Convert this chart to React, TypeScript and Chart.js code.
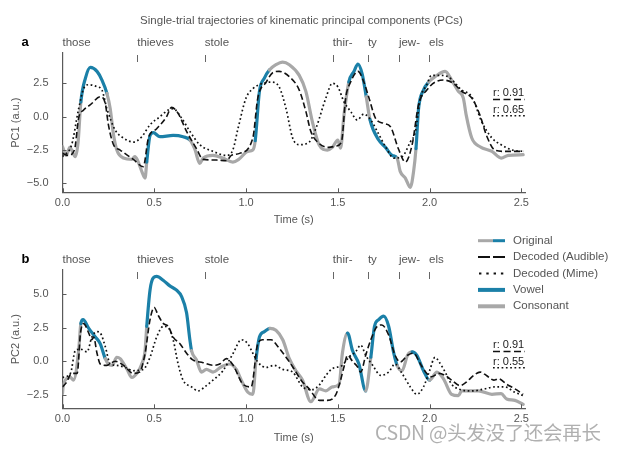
import React, { useEffect, useRef } from 'react';
import { Chart, registerables } from 'chart.js';

Chart.register(...registerables);

const GRAY = '#a8a8a8';
const BLUE = '#1b80a8';
const INK = '#111111';
const TEXT = '#555555';
const AXIS = '#5a5a5a';
const FONT = "'Liberation Sans', Arial, Helvetica, sans-serif";

// ---------- words (syllable onsets, s) ----------
const words = ['those', 'thieves', 'stole', 'thir-', 'ty', 'jew-', 'els'];
const wordTimes = [0, 0.407, 0.775, 1.473, 1.664, 1.833, 1.997];

// ---------- axes ----------
const xTickStep = 0.5;
const xMax = 2.52;
const pc1YTicks = [-5, -2.5, 0, 2.5];
const pc2YTicks = [-2.5, 0, 2.5, 5];
const pc1R = ['r: 0.91', 'r: 0.65'];
const pc2R = ['r: 0.91', 'r: 0.55'];
const legendLabels = ['Original', 'Decoded (Audible)', 'Decoded (Mime)', 'Vowel', 'Consonant'];

// ---------- PC1 ----------
const pc1OrigT = [0.0, 0.02, 0.04, 0.07, 0.085, 0.1, 0.125, 0.152, 0.188, 0.215, 0.242, 0.26, 0.278, 0.296, 0.332, 0.378, 0.394, 0.41, 0.432, 0.45, 0.459, 0.477, 0.495, 0.531, 0.603, 0.657, 0.694, 0.72, 0.748, 0.767, 0.82, 0.874, 0.928, 0.96, 1.01, 1.037, 1.05, 1.073, 1.1, 1.127, 1.163, 1.2, 1.236, 1.29, 1.326, 1.362, 1.398, 1.443, 1.47, 1.5, 1.515, 1.534, 1.56, 1.588, 1.61, 1.633, 1.655, 1.675, 1.723, 1.76, 1.796, 1.823, 1.84, 1.868, 1.895, 1.913, 1.926, 1.94, 1.967, 1.995, 2.03, 2.085, 2.12, 2.157, 2.184, 2.2, 2.23, 2.275, 2.34, 2.39, 2.43, 2.51];
const pc1OrigV = [-2.25, -2.9, -2.3, -3.0, -1.9, 1.1, 2.9, 3.7, 3.4, 2.75, 1.75, 0.6, -1.36, -2.5, -3.1, -3.2, -3.0, -3.3, -4.1, -4.6, -3.4, -1.4, -1.2, -1.5, -1.4, -1.5, -1.75, -2.4, -3.5, -3.1, -2.9, -3.1, -3.4, -3.2, -2.6, -2.5, -1.8, 1.9, 2.9, 3.5, 3.9, 4.1, 3.9, 3.1, 1.9, -0.4, -2.1, -2.5, -2.3, -1.75, -2.35, 0.15, 2.6, 3.4, 3.95, 3.2, 1.5, -0.2, -1.75, -2.3, -2.9, -3.1, -4.1, -4.6, -5.3, -4.1, -2.4, 0.6, 2.0, 2.6, 3.0, 3.4, 2.75, 1.9, 1.4, 0.1, -1.6, -2.25, -2.6, -3.1, -2.9, -2.85];
const pc1AudT = [0.0, 0.03, 0.065, 0.088, 0.115, 0.152, 0.206, 0.233, 0.25, 0.278, 0.314, 0.386, 0.44, 0.468, 0.513, 0.567, 0.594, 0.63, 0.676, 0.73, 0.766, 0.838, 0.893, 0.92, 0.965, 1.037, 1.064, 1.11, 1.145, 1.18, 1.236, 1.29, 1.326, 1.353, 1.398, 1.45, 1.49, 1.52, 1.543, 1.57, 1.61, 1.642, 1.67, 1.705, 1.75, 1.787, 1.83, 1.868, 1.905, 1.94, 1.985, 2.03, 2.076, 2.13, 2.175, 2.23, 2.275, 2.31, 2.356, 2.41, 2.51];
const pc1AudV = [-2.75, -2.9, -2.5, -0.1, 0.5, 0.9, 1.5, 1.0, -0.6, -2.1, -2.5, -3.2, -3.75, -1.6, -0.9, 0.0, 0.7, 0.25, -1.1, -2.4, -3.2, -3.25, -3.3, -2.9, -2.75, -1.6, 1.4, 2.6, 3.3, 3.4, 3.0, 2.0, 0.4, -1.1, -2.0, -2.3, -2.2, -1.9, 1.4, 2.6, 3.4, 2.6, 1.4, -0.1, -0.5, -0.75, -2.4, -3.4, -2.1, 0.9, 2.0, 2.6, 2.75, 2.5, 1.9, 1.4, 0.1, -1.4, -2.5, -2.6, -2.6];
const pc1MimeT = [0.0, 0.05, 0.088, 0.115, 0.143, 0.188, 0.215, 0.242, 0.287, 0.332, 0.386, 0.432, 0.477, 0.531, 0.576, 0.603, 0.649, 0.694, 0.748, 0.82, 0.893, 0.928, 0.956, 1.0, 1.037, 1.09, 1.137, 1.18, 1.218, 1.254, 1.29, 1.344, 1.38, 1.435, 1.47, 1.5, 1.534, 1.57, 1.606, 1.642, 1.68, 1.715, 1.76, 1.805, 1.85, 1.895, 1.923, 1.95, 1.985, 2.01, 2.056, 2.1, 2.175, 2.23, 2.285, 2.34, 2.39, 2.45, 2.51];
const pc1MimeV = [-3.0, -2.1, 0.6, 2.1, 2.4, 2.25, 2.0, 0.6, -1.0, -1.6, -1.9, -1.5, -0.6, 0.0, 0.5, 0.6, -0.1, -1.1, -2.1, -2.6, -2.9, -2.5, -0.9, 1.4, 2.1, 2.5, 2.6, 2.25, 0.6, -1.6, -2.1, -1.9, -0.9, 1.4, 2.5, 2.25, 1.1, 0.4, -0.25, 0.2, -0.25, -1.1, -2.25, -3.1, -3.0, -1.9, -1.1, 1.4, 2.4, 3.1, 3.1, 3.0, 2.0, 1.5, -0.4, -1.6, -2.1, -2.5, -2.6];
const pc1Vowels = [[0.1, 0.242], [0.459, 0.694], [1.05, 1.127], [1.56, 1.655], [1.675, 1.823], [1.926, 1.995]];

// ---------- PC2 ----------
const pc2OrigT = [0.0, 0.005, 0.043, 0.06, 0.088, 0.1, 0.112, 0.143, 0.179, 0.206, 0.233, 0.25, 0.27, 0.296, 0.314, 0.35, 0.378, 0.405, 0.432, 0.45, 0.459, 0.477, 0.495, 0.513, 0.55, 0.585, 0.62, 0.649, 0.676, 0.694, 0.703, 0.73, 0.757, 0.784, 0.82, 0.866, 0.91, 0.947, 0.974, 1.01, 1.037, 1.055, 1.073, 1.1, 1.13, 1.163, 1.2, 1.236, 1.272, 1.308, 1.353, 1.4, 1.435, 1.47, 1.507, 1.525, 1.553, 1.58, 1.615, 1.652, 1.68, 1.7, 1.723, 1.75, 1.777, 1.805, 1.823, 1.85, 1.88, 1.905, 1.93, 1.967, 2.0, 2.04, 2.076, 2.12, 2.157, 2.175, 2.266, 2.34, 2.39, 2.42, 2.465, 2.51];
const pc2OrigV = [-2.4, -1.7, -1.2, -1.4, 0.8, 2.8, 3.1, 2.45, 1.8, 1.3, 0.2, -0.2, -0.3, 0.3, 0.2, -0.55, -1.2, -0.9, -0.2, 0.8, 2.6, 5.3, 6.2, 6.3, 6.0, 5.6, 5.3, 4.8, 3.6, 1.6, 0.8, 0.1, -0.8, -0.6, -0.8, -0.4, -0.2, -0.6, -1.4, -2.3, -2.45, 0.2, 1.8, 2.2, 2.45, 2.3, 1.6, 0.2, -0.7, -1.4, -3.0, -2.05, -2.2, -1.9, -1.7, 0.6, 2.1, 0.8, -0.2, -2.2, 0.3, 2.6, 3.1, 3.35, 2.6, 0.6, -0.3, -0.7, 0.45, 0.7, 0.45, -0.7, -1.4, -0.8, -1.3, -2.45, -2.55, -2.2, -2.2, -2.45, -2.4, -2.8, -2.9, -3.2];
const pc2AudT = [0.0, 0.02, 0.05, 0.08, 0.098, 0.115, 0.143, 0.16, 0.17, 0.188, 0.206, 0.242, 0.287, 0.332, 0.386, 0.42, 0.45, 0.477, 0.5, 0.52, 0.55, 0.576, 0.603, 0.64, 0.676, 0.71, 0.766, 0.82, 0.857, 0.893, 0.93, 0.983, 1.028, 1.064, 1.09, 1.137, 1.173, 1.218, 1.254, 1.3, 1.344, 1.4, 1.443, 1.49, 1.515, 1.534, 1.553, 1.58, 1.607, 1.625, 1.652, 1.68, 1.715, 1.74, 1.777, 1.812, 1.84, 1.88, 1.913, 1.95, 1.985, 2.01, 2.05, 2.085, 2.12, 2.166, 2.2, 2.24, 2.275, 2.31, 2.35, 2.375, 2.42, 2.465, 2.51];
const pc2AudV = [-1.9, -1.6, -0.9, -0.9, 2.1, 2.8, 2.1, 1.6, 1.8, 0.6, -0.2, -0.3, 0.0, -0.3, -0.9, -0.8, 0.6, 3.1, 4.0, 3.45, 2.8, 2.6, 1.8, 1.3, 0.6, 0.1, -0.1, -0.3, -0.2, 0.2, -0.3, -1.7, -1.9, 1.3, 1.6, 1.6, 1.1, 0.3, -0.4, -1.4, -2.05, -2.9, -2.9, -2.45, -1.4, -0.4, 0.45, 0.0, -0.4, -0.8, 0.45, 1.6, 2.6, 2.7, 1.95, 0.45, -0.05, 0.45, 0.6, -0.2, -0.9, -1.15, -0.9, -1.05, -1.4, -1.8, -1.55, -1.05, -0.8, -1.05, -1.4, -1.3, -1.7, -2.05, -2.45];
const pc2MimeT = [0.0, 0.043, 0.07, 0.098, 0.134, 0.16, 0.188, 0.206, 0.233, 0.26, 0.296, 0.34, 0.386, 0.44, 0.477, 0.513, 0.55, 0.576, 0.603, 0.63, 0.657, 0.703, 0.739, 0.775, 0.82, 0.874, 0.93, 0.974, 1.01, 1.037, 1.064, 1.11, 1.154, 1.2, 1.254, 1.308, 1.362, 1.4, 1.435, 1.47, 1.525, 1.56, 1.597, 1.625, 1.652, 1.69, 1.734, 1.777, 1.812, 1.85, 1.895, 1.93, 1.967, 2.0, 2.03, 2.05, 2.085, 2.12, 2.157, 2.23, 2.3, 2.356, 2.41, 2.465, 2.51];
const pc2MimeV = [-1.2, -0.9, 0.8, 0.9, 0.7, 1.8, 2.2, 2.1, 1.1, -0.2, -0.3, -0.45, -0.7, -0.6, 0.3, 1.8, 2.6, 2.5, 1.6, -0.2, -1.4, -1.9, -2.2, -1.9, -1.4, -0.7, 0.6, 1.6, 1.3, 0.6, -0.05, -0.45, -0.3, -0.6, -0.8, -1.9, -2.1, -1.75, -1.05, -0.55, -0.3, 0.3, 0.7, 1.2, 0.45, -0.3, -1.05, -0.8, -0.2, -0.9, -1.9, -2.45, -1.9, -0.7, 0.3, 0.0, -0.8, -1.7, -2.05, -2.2, -2.05, -1.9, -1.9, -2.3, -2.55];
const pc2Vowels = [[0.1, 0.233], [0.459, 0.703], [1.055, 1.13], [1.553, 1.652], [1.68, 1.823], [1.905, 2.0]];

// ---------- helpers ----------
const series = (t: number[], v: number[]) => t.map((x, i) => ({ x, y: v[i] }));
const inVowel = (a: number, b: number, iv: number[][]) => {
  const m = (a + b) / 2;
  return iv.some(([s, e]) => m >= s - 1e-6 && m <= e + 1e-6);
};
const fmt = (v: number) => (v < 0 ? '\u2212' : '') + Math.abs(v).toFixed(1);

const AUD_DASH = [6, 3];
const MIME_DASH = [1.7, 2.6];

function hline(ctx: CanvasRenderingContext2D, x0: number, x1: number, y: number) {
  ctx.beginPath();
  ctx.moveTo(x0, y);
  ctx.lineTo(x1, y);
  ctx.stroke();
}

const extras = {
  id: 'extras',
  afterDraw(chart: any, _a: any, o: any) {
    const { ctx, chartArea: ca, scales } = chart;
    const xs = scales.x;
    const ys = scales.y;
    ctx.save();
    // inward ticks
    ctx.strokeStyle = AXIS;
    ctx.lineWidth = 1;
    ctx.setLineDash([]);
    for (let t = 0; t <= xMax + 1e-9; t += xTickStep) {
      const px = Math.round(xs.getPixelForValue(t)) + 0.5;
      ctx.beginPath();
      ctx.moveTo(px, ca.bottom);
      ctx.lineTo(px, ca.bottom - 4);
      ctx.stroke();
    }
    for (const v of o.yTicks) {
      const py = Math.round(ys.getPixelForValue(v)) + 0.5;
      ctx.beginPath();
      ctx.moveTo(ca.left, py);
      ctx.lineTo(ca.left + 4, py);
      ctx.stroke();
    }
    // words
    ctx.font = `11.5px ${FONT}`;
    ctx.fillStyle = TEXT;
    ctx.textAlign = 'left';
    ctx.textBaseline = 'alphabetic';
    ctx.strokeStyle = '#666';
    words.forEach((w, i) => {
      const px = xs.getPixelForValue(wordTimes[i]);
      ctx.fillText(w, px, ca.top - 7.5);
      if (i > 0) {
        const x = Math.round(px) + 0.5;
        ctx.beginPath();
        ctx.moveTo(x, ca.top + 2);
        ctx.lineTo(x, ca.top + 9);
        ctx.stroke();
      }
    });
    // panel letter
    ctx.font = `bold 13px ${FONT}`;
    ctx.fillStyle = '#000';
    ctx.fillText(o.panel, 21.5, ca.top - 7.5);
    // r labels
    ctx.font = `11px ${FONT}`;
    ctx.fillStyle = '#222';
    const rx0 = ca.right - 32;
    const rx1 = ca.right;
    o.rLabels.forEach((s: string, i: number) => {
      const by = ca.top + o.rBase + i * 16.3;
      ctx.fillText(s, rx0, by);
      ctx.strokeStyle = INK;
      ctx.lineWidth = 1.5;
      ctx.setLineDash(i === 0 ? [7, 3.5] : MIME_DASH);
      hline(ctx, rx0, rx1, by + 3.2);
      ctx.setLineDash([]);
    });
    // title
    if (o.title) {
      ctx.font = `11.5px ${FONT}`;
      ctx.fillStyle = TEXT;
      ctx.textAlign = 'center';
      ctx.textBaseline = 'middle';
      ctx.fillText(o.title, 301.5, 21);
    }
    // legend
    if (o.legend) {
      const lx0 = 478, lmid = 493, lx1 = 505, tx = 513;
      const y0 = 10.7, dy = 16.4;
      ctx.textAlign = 'left';
      ctx.textBaseline = 'middle';
      ctx.font = `11.5px ${FONT}`;
      legendLabels.forEach((lab, i) => {
        const y = y0 + i * dy;
        ctx.setLineDash([]);
        ctx.lineCap = 'butt';
        if (i === 0) {
          ctx.lineWidth = 3;
          ctx.strokeStyle = GRAY;
          hline(ctx, lx0, lmid, y);
          ctx.strokeStyle = BLUE;
          hline(ctx, lmid, lx1, y);
        } else if (i === 1) {
          ctx.lineWidth = 2;
          ctx.strokeStyle = INK;
          ctx.setLineDash([12, 3]);
          hline(ctx, lx0, lx1, y);
        } else if (i === 2) {
          ctx.lineWidth = 2;
          ctx.strokeStyle = INK;
          ctx.setLineDash([2.4, 4.9]);
          hline(ctx, lx0 + 1, lx1, y);
        } else {
          ctx.lineWidth = 4;
          ctx.strokeStyle = i === 3 ? BLUE : GRAY;
          hline(ctx, lx0, lx1, y);
        }
        ctx.setLineDash([]);
        ctx.fillStyle = TEXT;
        ctx.fillText(lab, tx, y);
      });
    }
    ctx.restore();
  },
};

function makeConfig(p: any): any {
  return {
    type: 'line',
    data: {
      datasets: [
        {
          label: 'Decoded (Mime)',
          data: series(p.mimeT, p.mimeV),
          borderColor: INK,
          borderWidth: 1.7,
          borderDash: MIME_DASH,
          pointRadius: 0,
          fill: false,
          cubicInterpolationMode: 'monotone',
        },
        {
          label: 'Decoded (Audible)',
          data: series(p.audT, p.audV),
          borderColor: INK,
          borderWidth: 1.6,
          borderDash: AUD_DASH,
          pointRadius: 0,
          fill: false,
          cubicInterpolationMode: 'monotone',
        },
        {
          label: 'Original',
          data: series(p.origT, p.origV),
          borderColor: GRAY,
          borderWidth: 3.2,
          borderJoinStyle: 'round',
          borderCapStyle: 'round',
          pointRadius: 0,
          fill: false,
          cubicInterpolationMode: 'monotone',
          segment: {
            borderColor: (c: any) => (inVowel(c.p0.parsed.x, c.p1.parsed.x, p.vowels) ? BLUE : GRAY),
          },
        },
      ],
    },
    options: {
      responsive: false,
      animation: false,
      events: [],
      layout: { padding: { left: 0, top: p.padTop, right: 622 - 525, bottom: p.padBottom } },
      plugins: {
        legend: { display: false },
        tooltip: { enabled: false },
        extras: p.extras,
      },
      scales: {
        x: {
          type: 'linear',
          min: 0,
          max: xMax,
          afterFit: (s: any) => {
            s.height = p.xH;
          },
          grid: { display: false, drawTicks: false, tickLength: 0 },
          border: { display: true, color: AXIS, width: 1.2 },
          ticks: {
            stepSize: xTickStep,
            includeBounds: false,
            padding: 4,
            color: TEXT,
            maxRotation: 0,
            autoSkip: false,
            font: { family: FONT, size: 11 },
            callback: (v: number) => fmt(v),
          },
          title: {
            display: true,
            text: 'Time (s)',
            color: TEXT,
            font: { family: FONT, size: 11 },
            padding: { top: 0, bottom: 0 },
          },
        },
        y: {
          type: 'linear',
          min: p.yMin,
          max: p.yMax,
          afterFit: (s: any) => {
            s.width = 62.5;
          },
          grid: { display: false, drawTicks: false, tickLength: 0 },
          border: { display: true, color: AXIS, width: 1.2 },
          ticks: {
            stepSize: 2.5,
            includeBounds: false,
            padding: 14,
            color: TEXT,
            font: { family: FONT, size: 11 },
            callback: (v: number) => fmt(v),
          },
          title: {
            display: true,
            text: p.yTitle,
            color: TEXT,
            font: { family: FONT, size: 11 },
            padding: { top: 9.4, bottom: 0 },
          },
        },
      },
    },
    plugins: [extras],
  };
}

export default function App() {
  const ref1 = useRef<HTMLCanvasElement>(null);
  const ref2 = useRef<HTMLCanvasElement>(null);
  useEffect(() => {
    const c1 = new Chart(
      ref1.current as HTMLCanvasElement,
      makeConfig({
        origT: pc1OrigT, origV: pc1OrigV,
        audT: pc1AudT, audV: pc1AudV,
        mimeT: pc1MimeT, mimeV: pc1MimeV,
        vowels: pc1Vowels,
        yMin: -5.67, yMax: 4.78,
        yTitle: 'PC1 (a.u.)',
        padTop: 53, padBottom: 3.7, xH: 34,
        extras: {
          panel: 'a', yTicks: pc1YTicks, rLabels: pc1R, rBase: 43.3,
          title: 'Single-trial trajectories of kinematic principal components (PCs)',
          legend: false,
        },
      })
    );
    const c2 = new Chart(
      ref2.current as HTMLCanvasElement,
      makeConfig({
        origT: pc2OrigT, origV: pc2OrigV,
        audT: pc2AudT, audV: pc2AudV,
        mimeT: pc2MimeT, mimeV: pc2MimeV,
        vowels: pc2Vowels,
        yMin: -3.49, yMax: 6.78,
        yTitle: 'PC2 (a.u.)',
        padTop: 40, padBottom: 5.7, xH: 36,
        extras: {
          panel: 'b', yTicks: pc2YTicks, rLabels: pc2R, rBase: 78.3,
          title: '', legend: true,
        },
      })
    );
    return () => {
      c1.destroy();
      c2.destroy();
    };
  }, []);
  return (
    <div style={{ position: 'absolute', left: 0, top: 0, width: 622, height: 450, background: '#fff', overflow: 'hidden' }}>
      <canvas ref={ref1} width={622} height={230} style={{ position: 'absolute', left: 0, top: 0, display: 'block' }} />
      <canvas ref={ref2} width={622} height={220} style={{ position: 'absolute', left: 0, top: 230, display: 'block' }} />
      <div
        style={{
          position: 'absolute',
          left: 375,
          top: 419,
          fontFamily: "'Noto Sans CJK SC', 'Noto Sans', sans-serif",
          fontSize: 19.5,
          lineHeight: '26px',
          color: 'rgba(150,150,150,0.75)',
          whiteSpace: 'nowrap',
          letterSpacing: -0.3,
        }}
      >
        CSDN @头发没了还会再长
      </div>
    </div>
  );
}
